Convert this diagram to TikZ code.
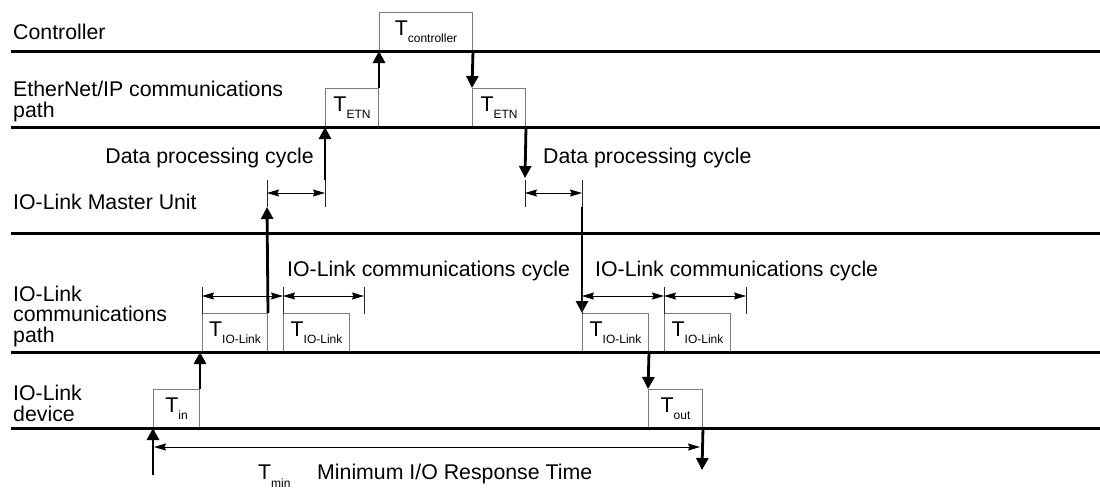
\documentclass[tikz,border=0pt]{standalone}
\usepackage{fontspec}
\setmainfont{Liberation Sans}
\usetikzlibrary{arrows.meta,positioning,calc}
\definecolor{ink}{HTML}{000000}
\definecolor{boxcol}{HTML}{7A7A7A}
\newcommand{\Tlab}[2][7pt]{T\raisebox{-#1}{\fontsize{12}{12}\selectfont #2}}

\begin{document}
\begin{tikzpicture}[
  x=1pt, y=-1pt, line cap=butt, line join=miter,
  every node/.style={font=\fontsize{21.3}{20.5}\selectfont, text=ink, inner sep=0pt},
  lane/.style={ink, line width=3pt},
  tbox/.style={draw=boxcol, line width=1pt, anchor=south west,
               text height=23pt, text depth=15pt},
  lbl/.style={anchor=base west, align=left},
  flow/.style={-{Triangle[length=12pt,width=12pt]}, ink, line width=2.8pt},
  span/.style={{Stealth[length=12pt,width=7pt,inset=1.5pt]}-{Stealth[length=12pt,width=7pt,inset=1.5pt]},
               ink, line width=1pt},
  tick/.style={ink!85, line width=0.8pt}]

\useasboundingbox (0,0) rectangle (1100,491);

% ================================================ time boxes
\node[tbox, minimum width=93pt] (tctrl) at (379,51)  {\Tlab{controller}};
\node[tbox, minimum width=53pt] (etnup) at (325,127) {\Tlab{ETN}};
\node[tbox, minimum width=53pt] (etndn) at (472,127) {\Tlab{ETN}};
\node[tbox, minimum width=65pt] (linkA) at (202,352) {\Tlab{IO-Link}};
\node[tbox, minimum width=66pt] (linkB) at (283,352) {\Tlab{IO-Link}};
\node[tbox, minimum width=66pt] (linkC) at (582,352) {\Tlab{IO-Link}};
\node[tbox, minimum width=66pt] (linkD) at (664,352) {\Tlab{IO-Link}};
\node[tbox, minimum width=46pt] (tin)   at (153,428) {\Tlab{in}};
\node[tbox, minimum width=54pt] (tout)  at (648,428) {\Tlab{out}};

% ================================================ lanes and their names
% (a multi-line label sits on the baseline of its last line)
\foreach \y in {51,127,233,352,428}
  \draw[lane] (11,\y) -- (1100,\y);
\node[lbl] (nctrl) at (13,39)  {Controller};
\node[lbl] (netn)  at (13,117) {EtherNet/IP communications\\path};
\node[lbl] (nmu)   at (13,209) {IO-Link Master Unit};
\node[lbl] (npath) at (13,342) {IO-Link\\communications\\path};
\node[lbl] (ndev)  at (13,421) {IO-Link\\device};

% ================================================ signal path
\coordinate (sIn)   at (153,475);
\coordinate (muIn)  at (267,207);
\coordinate (muOut) at (325,180);
\coordinate (muRx)  at (525,178);
\coordinate (muTx)  at (582,207);
\coordinate (sOut)  at (702,470);
\draw[flow] (sIn) -- (tin.south west);
\draw[flow] (tin.north east) -- (tin.north east |- linkA.south);
\draw[flow] (linkA.north east) -- (muIn);
\draw[flow] (muOut) -- (etnup.south west);
\draw[flow] (etnup.north east) -- (etnup.north east |- tctrl.south);
\draw[flow] (tctrl.south east) -- (etndn.north west);
\draw[flow] (etndn.south east) -- (muRx);
\draw[flow] (muTx) -- (linkC.north west);
\draw[flow] (linkC.south east) -- (tout.north west);
\draw[flow] (tout.south east) -- (sOut);

% ================================================ data processing cycles
\coordinate (dpA) at (267,193);
\coordinate (dpB) at (325,193);
\coordinate (dpC) at (525,193);
\coordinate (dpD) at (582,193);
\foreach \c in {dpA,dpB,dpC,dpD}
  \draw[tick] ([yshift=13pt]\c) -- ([yshift=-14pt]\c);
\draw[span] (dpA) -- (dpB);
\draw[span] (dpC) -- (dpD);
\node[anchor=base east] (dpl1) at (314,163) {Data processing cycle};
\node[anchor=base west] (dpl2) at (543,163) {Data processing cycle};

% ================================================ IO-Link communications cycles
\coordinate (cyA) at (202,296);
\coordinate (cyB) at (283,296);
\coordinate (cyC) at (364,296);
\coordinate (cyD) at (582,296);
\coordinate (cyE) at (664,296);
\coordinate (cyF) at (746,296);
\foreach \c in {cyA,cyB,cyC,cyD,cyE,cyF}
  \draw[tick] ([yshift=9pt]\c) -- ([yshift=-17.5pt]\c);
\draw[span] (cyA) -- (cyB);
\draw[span] (cyB) -- (cyC);
\draw[span] (cyD) -- (cyE);
\draw[span] (cyE) -- (cyF);
\node[anchor=base west] (cyl1) at (287,276) {IO-Link communications cycle};
\node[anchor=base west] (cyl2) at (595,276) {IO-Link communications cycle};

% ================================================ response time
\coordinate (rtA) at (154,447);
\coordinate (rtB) at (700,447);
\draw[span] (rtA) -- (rtB);
\node[anchor=base west] (tmin)  at (258,479) {\Tlab[8pt]{min}};
\node[anchor=base west] (tminl) at (317,479) {Minimum I/O Response Time};

\end{tikzpicture}
\end{document}
